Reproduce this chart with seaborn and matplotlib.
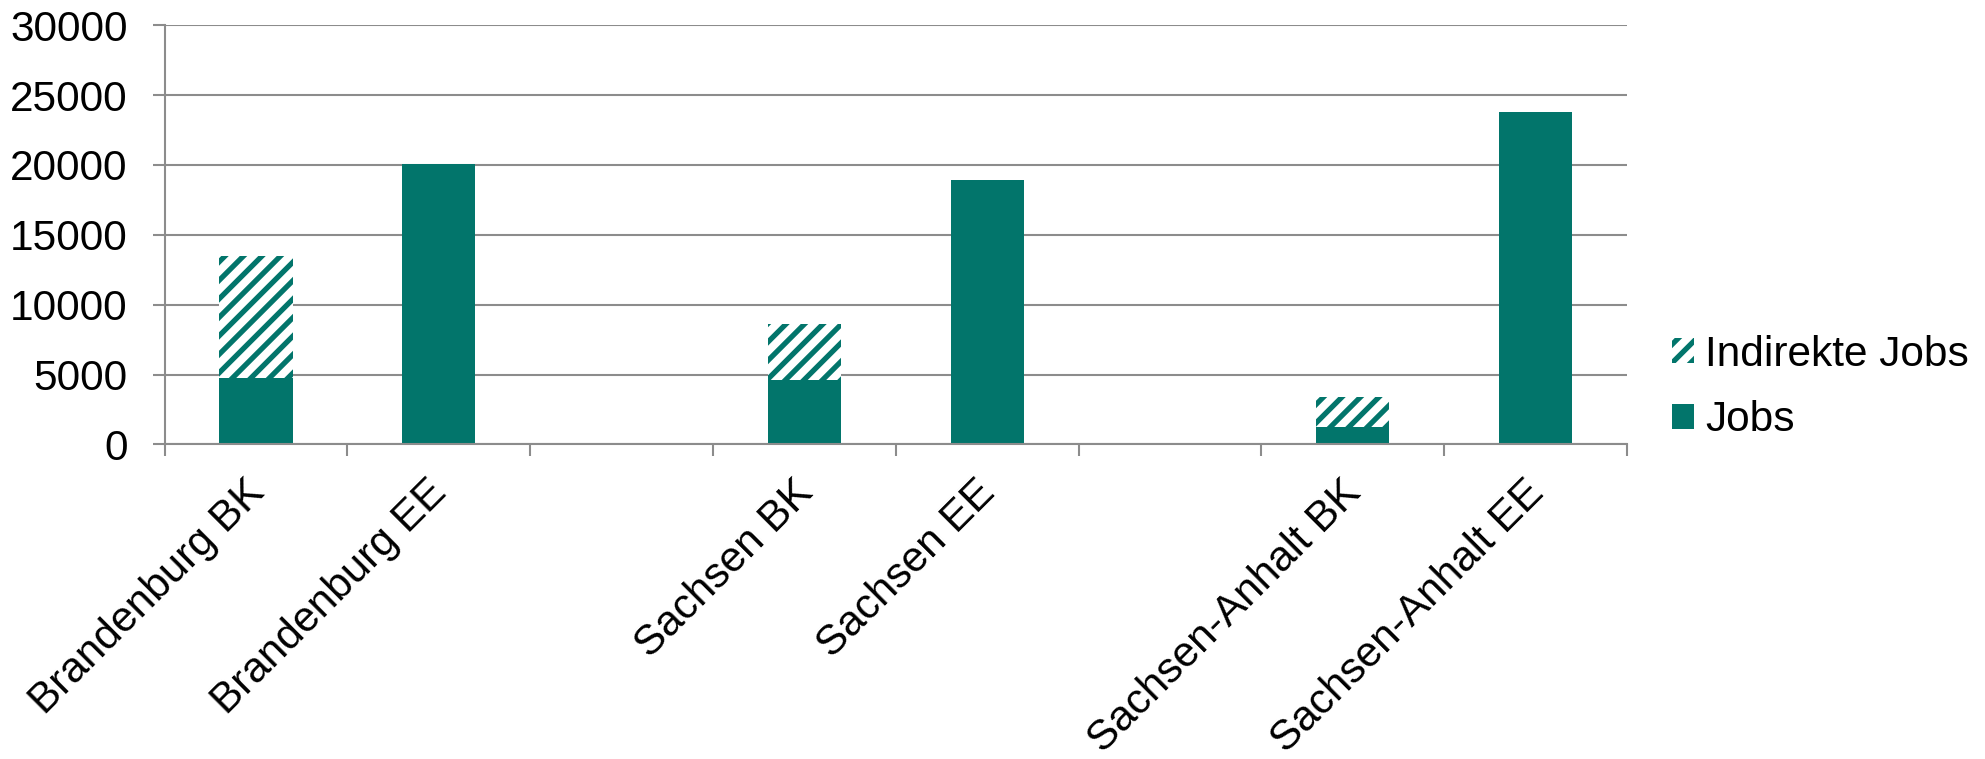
import matplotlib
matplotlib.use("Agg")
import matplotlib.pyplot as plt
import matplotlib.patches as mpatches
import matplotlib.transforms as mtransforms
import numpy as np
import pandas as pd
import seaborn as sns

# ---- data ----
categories = ["Brandenburg BK", "Brandenburg EE", "", "Sachsen BK", "Sachsen EE", " ",
              "Sachsen-Anhalt BK", "Sachsen-Anhalt EE"]
bar_categories = ["Brandenburg BK", "Brandenburg EE", "Sachsen BK", "Sachsen EE",
                  "Sachsen-Anhalt BK", "Sachsen-Anhalt EE"]
jobs = [4750, 20050, 4620, 18900, 1220, 23800]
indirekte_jobs = [8700, 0, 3970, 0, 2140, 0]
y_ticks = [0, 5000, 10000, 15000, 20000, 25000, 30000]

teal = "#02756B"
gray = "#8C8C8C"

DPI = 111
K = 100.0 / DPI          # sizes below are tuned as points at 100 dpi
def P(v):
    return v * K

FS = P(30.5)

sns.set_theme(style="white")
plt.rcParams["font.family"] = ["Liberation Sans", "DejaVu Sans"]
plt.rcParams["hatch.linewidth"] = P(3.8)
plt.rcParams["text.color"] = "black"

df = pd.DataFrame({
    "cat": bar_categories,
    "jobs": jobs,
    "total": np.array(jobs) + np.array(indirekte_jobs),
})

fig = plt.figure(figsize=(1985 / DPI, 759 / DPI), dpi=DPI)
ax = fig.add_axes([0.0829, 0.4145, 0.8197 - 0.0829, 0.9667 - 0.4145])

# hatched total (indirect jobs on top of jobs)
sns.barplot(data=df, x="cat", y="total", order=categories, ax=ax, width=0.4,
            color="white", edgecolor=teal, linewidth=0, hatch="//", saturation=1,
            errorbar=None)
# solid jobs
sns.barplot(data=df, x="cat", y="jobs", order=categories, ax=ax, width=0.4,
            color=teal, linewidth=0, saturation=1, errorbar=None)
for p in ax.patches:
    if p.get_hatch() is None:
        p.set_facecolor(teal)
        p.set_edgecolor(teal)

ax.set_ylim(0, 30000)
ax.set_xlim(-0.5, len(categories) - 0.5)
ax.set_yticks(y_ticks)
ax.set_yticklabels([str(v) for v in y_ticks])
ax.yaxis.grid(True, color=gray, linewidth=P(1.5))
ax.set_axisbelow(True)
ax.set_xlabel("")
ax.set_ylabel("")

for s in ["top", "right"]:
    ax.spines[s].set_visible(False)
for s in ["left", "bottom"]:
    ax.spines[s].set_color(gray)
    ax.spines[s].set_linewidth(P(1.5))

ax.tick_params(axis="y", length=P(8.5), width=P(1.5), color=gray, pad=P(18),
               labelsize=FS, labelcolor="black", left=True)
ax.set_xticks(range(len(categories)))
ax.set_xticklabels(categories, rotation=45, ha="right", va="center",
                   rotation_mode="anchor", fontsize=FS, color="black")
ax.tick_params(axis="x", which="major", length=0, pad=P(30.5), labelcolor="black")
ax.set_xticks(np.arange(-0.5, len(categories), 1.0), minor=True)
ax.tick_params(axis="x", which="minor", length=P(8.5), width=P(1.5), color=gray,
               bottom=True)

offset = mtransforms.ScaledTranslation(2 / DPI, 0, fig.dpi_scale_trans)
for lab in ax.get_xticklabels():
    lab.set_transform(lab.get_transform() + offset)

handles = [
    mpatches.Patch(facecolor="white", edgecolor=teal, linewidth=0, hatch="//",
                   label="Indirekte Jobs"),
    mpatches.Patch(facecolor=teal, edgecolor=teal, linewidth=0, label="Jobs"),
]
leg = fig.legend(handles=handles, loc="center left", bbox_to_anchor=(0.8425, 0.4895),
                 frameon=False, fontsize=FS, handlelength=0.52, handleheight=0.52,
                 handletextpad=0.25, labelspacing=0.6, borderpad=0, borderaxespad=0)
for t in leg.get_texts():
    t.set_color("black")

fig.savefig("out.png", dpi=DPI)
